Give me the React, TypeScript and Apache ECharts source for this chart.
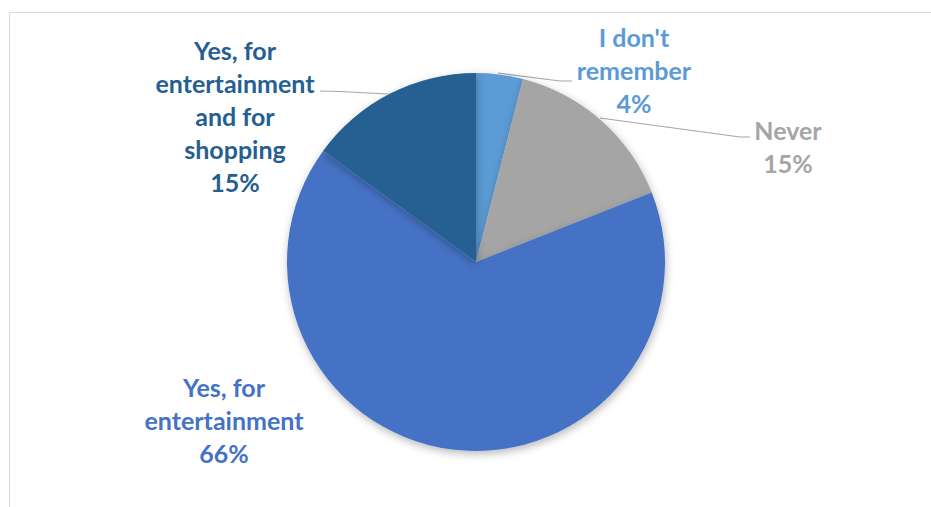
import React, { useEffect, useRef } from "react";
import * as echarts from "echarts";

const categories = [
  "I don't\nremember",
  "Never",
  "Yes, for\nentertainment",
  "Yes, for\nentertainment\nand for\nshopping",
];
const values = [4, 15, 66, 15];
const colors = ["#5B9BD5", "#A5A5A5", "#4472C4", "#255E91"];
const labelCenters = [
  [634, 70],
  [788, 146],
  [224, 420],
  [235, 116],
];
const leaderLines: (number[][] | null)[] = [
  [[498, 73], [560, 81], [572, 81]],
  [[600, 118], [740, 137], [750, 137]],
  null,
  [[388, 94], [340, 91.5], [320, 91]],
];

export default function App() {
  const ref = useRef<HTMLDivElement>(null);
  useEffect(() => {
    if (!ref.current) return;
    const chart = echarts.init(ref.current, undefined, { renderer: "svg" });
    chart.setOption({
      animation: false,
      backgroundColor: "#ffffff",
      graphic: [
        {
          type: "rect",
          shape: { x: 9.5, y: 12.5, width: 1000, height: 1000 },
          style: { fill: "none", stroke: "#d9d9d9", lineWidth: 1 },
          silent: true,
          z: -10,
        },
      ],
      series: [
        {
          type: "pie",
          center: [476, 262],
          radius: [0, 189],
          startAngle: 90,
          clockwise: true,
          itemStyle: {
            shadowBlur: 8,
            shadowColor: "rgba(0,0,0,0.28)",
            shadowOffsetX: 1,
            shadowOffsetY: 3,
          },
          label: {
            show: true,
            fontFamily: "Lato",
            fontWeight: "bold",
            fontSize: 25,
            lineHeight: 33,
            align: "center",
            formatter: (p: any) => `${p.name}\n${p.value}%`,
          },
          labelLine: {
            show: true,
            lineStyle: { color: "#A6A6A6", width: 1.2 },
          },
          labelLayout: (p: any) => {
            const i = p.dataIndex;
            const c = labelCenters[i];
            const out: any = {
              x: c[0],
              y: c[1],
              align: "center",
              verticalAlign: "middle",
            };
            if (leaderLines[i]) out.labelLinePoints = leaderLines[i];
            return out;
          },
          data: categories.map((name, i) => ({
            name,
            value: values[i],
            itemStyle: { color: colors[i] },
            label: { color: colors[i] },
            labelLine: { show: leaderLines[i] !== null },
          })),
        },
      ],
    });
    return () => chart.dispose();
  }, []);
  return (
    <div
      ref={ref}
      style={{ position: "fixed", left: 0, top: 0, width: 931, height: 507 }}
    />
  );
}
